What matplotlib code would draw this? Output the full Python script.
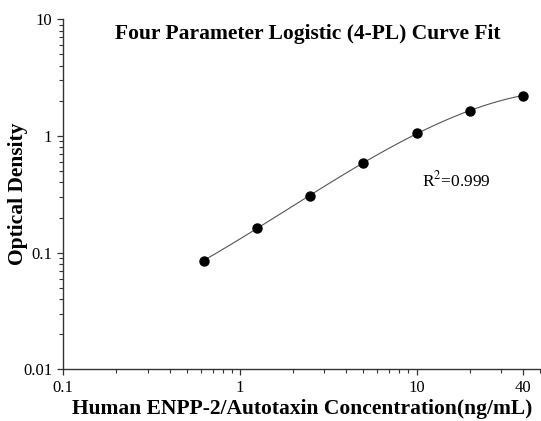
import numpy as np
import matplotlib
matplotlib.use('Agg')
import matplotlib.pyplot as plt
from matplotlib.ticker import FixedLocator, LogLocator, NullFormatter

# standard concentrations (ng/mL) and measured OD
conc = [0.625, 1.25, 2.5, 5, 10, 20, 40]
od = [0.0853, 0.164, 0.308, 0.583, 1.055, 1.65, 2.22]
xticks = [0.1, 1, 10, 40]
xticklabels = ['0.1', '1', '10', '40']
yticks = [0.01, 0.1, 1, 10]
yticklabels = ['0.01', '0.1', '1', '10']

plt.rcParams['font.family'] = ['Liberation Serif', 'DejaVu Serif']

fig = plt.figure(figsize=(5.41, 4.21), dpi=100)
ax = fig.add_axes([63.3/541, (421-369.3)/421, (540-63.3)/541, (369.3-19.3)/421])

# smooth fitted curve (cubic in log-log space)
lx = np.log10(conc)
ly = np.log10(od)
coef = np.polyfit(lx, ly, 3)
xs = np.linspace(lx[0], lx[-1], 200)
ax.plot(10**xs, 10**np.polyval(coef, xs), color='#555555', lw=0.8, zorder=1)
ax.plot(conc, od, 'o', color='black', ms=6.5, zorder=2)

ax.set_xscale('log')
ax.set_yscale('log')
ax.set_xlim(0.1, 50)
ax.set_ylim(0.01, 10)

ax.xaxis.set_major_locator(FixedLocator(xticks))
ax.set_xticklabels(xticklabels)
ax.xaxis.set_minor_locator(LogLocator(base=10, subs=np.arange(2, 10)))
ax.xaxis.set_minor_formatter(NullFormatter())
ax.yaxis.set_major_locator(FixedLocator(yticks))
ax.set_yticklabels(yticklabels)
ax.yaxis.set_minor_locator(LogLocator(base=10, subs=np.arange(2, 10)))
ax.yaxis.set_minor_formatter(NullFormatter())

for s in ['top', 'right']:
    ax.spines[s].set_visible(False)
for s in ['left', 'bottom']:
    ax.spines[s].set_linewidth(1.0)
    ax.spines[s].set_color('#333333')
ax.tick_params(which='major', length=4.5, width=0.9, labelsize=12, color='#333333', pad=3.5)
ax.tick_params(which='minor', length=3, width=0.8, color='#333333')

ax.set_xlabel('Human ENPP-2/Autotaxin Concentration(ng/mL)', fontsize=15.5, fontweight='bold')
ax.set_ylabel('Optical Density', fontsize=15.5, fontweight='bold', va='center')
ax.xaxis.set_label_coords(0.501, -0.084)
ax.yaxis.set_label_coords(-0.095, 0.5)
ax.text(0.513, 0.957, 'Four Parameter Logistic (4-PL) Curve Fit', transform=ax.transAxes,
        ha='center', va='center', fontsize=15.5, fontweight='bold')
ax.text(0.824, 0.541, 'R$^2$=0.999', transform=ax.transAxes, ha='center', va='center', fontsize=12.5,
        math_fontfamily='stix')

fig.savefig('out.png', dpi=100)
